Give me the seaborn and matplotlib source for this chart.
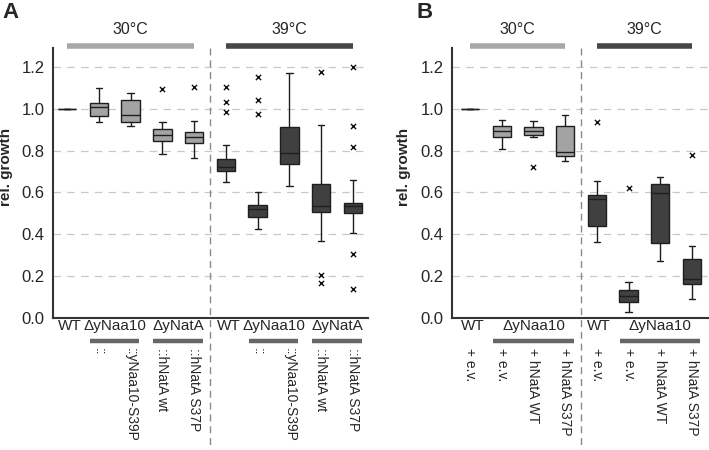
"""Relative growth of yeast strains at 30 °C and 39 °C (panels A and B)."""

import matplotlib.pyplot as plt
import matplotlib.transforms as mtransforms
import numpy as np
import pandas as pd
import seaborn as sns

# ---- panel A: box statistics (whisker low, Q1, median, Q3, whisker high)
A_temp = ["30", "30", "30", "30", "30", "39", "39", "39", "39", "39"]
A_low = [1.000, 0.938, 0.915, 0.784, 0.766, 0.652, 0.425, 0.631, 0.370, 0.405]
A_q1 = [1.000, 0.967, 0.935, 0.848, 0.835, 0.703, 0.481, 0.735, 0.508, 0.503]
A_med = [1.000, 1.007, 0.970, 0.875, 0.867, 0.723, 0.520, 0.787, 0.537, 0.533]
A_q3 = [1.000, 1.026, 1.042, 0.902, 0.888, 0.760, 0.540, 0.913, 0.639, 0.548]
A_high = [1.000, 1.098, 1.077, 0.935, 0.942, 0.827, 0.601, 1.170, 0.923, 0.660]
A_out_pos = [3, 4, 5, 5, 5, 6, 6, 6, 8, 8, 8, 9, 9, 9, 9, 9]
A_out_val = [1.096, 1.103, 1.106, 1.033, 0.986, 1.151, 1.042, 0.975,
             1.174, 0.204, 0.166, 1.198, 0.918, 0.819, 0.306, 0.137]
A_top = ["WT", "ΔyNaa10", "ΔyNatA", "WT", "ΔyNaa10", "ΔyNatA"]
A_top_pos = [0.1, 1.5, 3.5, 5.1, 6.5, 8.5]
A_rot = ["::", "::yNaa10-S39P", "::hNatA wt", "::hNatA S37P"] * 2
A_rot_pos = [1, 2, 3, 4, 6, 7, 8, 9]

# ---- panel B
B_temp = ["30", "30", "30", "30", "39", "39", "39", "39"]
B_low = [1.000, 0.808, 0.867, 0.750, 0.362, 0.030, 0.272, 0.089]
B_q1 = [1.000, 0.864, 0.876, 0.774, 0.440, 0.078, 0.357, 0.161]
B_med = [1.000, 0.895, 0.895, 0.795, 0.569, 0.107, 0.599, 0.186]
B_q3 = [1.000, 0.915, 0.913, 0.915, 0.588, 0.134, 0.640, 0.282]
B_high = [1.000, 0.947, 0.943, 0.970, 0.656, 0.174, 0.675, 0.346]
B_out_pos = [2, 4, 5, 7]
B_out_val = [0.720, 0.938, 0.620, 0.778]
B_top = ["WT", "ΔyNaa10", "WT", "ΔyNaa10"]
B_top_pos = [0.1, 2, 4.05, 6]
B_rot = ["+ e.v.", "+ e.v.", "+ hNatA WT", "+ hNatA S37P"] * 2
B_rot_pos = [0, 1, 2, 3, 4, 5, 6, 7]

PALETTE = {"30": "#a3a3a3", "39": "#404040"}
BAR_COLORS = {"30": "#a8a8a8", "39": "#474747"}


def box_frame(temp, low, q1, med, q3, high):
    rows = []
    for pos, t in enumerate(temp):
        for v in (low[pos], q1[pos], med[pos], q3[pos], high[pos]):
            rows.append({"pos": pos, "value": v, "temp": t})
    return pd.DataFrame(rows)


def draw_panel(ax, df, out_pos, out_val, xlim, split, top, top_pos, underline,
               rot, rot_pos, temp_spans, letter, ylabel_x):
    sns.boxplot(data=df, x="pos", y="value", hue="temp", palette=PALETTE,
                native_scale=True, dodge=False, width=0.58, whis=(0, 100),
                linecolor="#1e1e1e", linewidth=1.0, showfliers=False,
                legend=False, capwidths=0.2, ax=ax)
    sns.scatterplot(x=out_pos, y=out_val, marker="x", color="#111111", s=14,
                    linewidth=1.0, ax=ax, zorder=5)

    ax.set_xlim(*xlim)
    ax.set_ylim(0, 1.29)
    ax.set_yticks(np.arange(0, 1.21, 0.2))
    ax.set_yticklabels([f"{v:.1f}" for v in np.arange(0, 1.21, 0.2)], fontsize=12)
    ax.set_xticks([])
    ax.set_xlabel("")
    ax.set_ylabel("rel. growth", fontsize=11, fontweight="bold")
    ax.yaxis.set_label_coords(ylabel_x, 0.56)
    ax.tick_params(axis="y", length=4, width=1.2, pad=2, color="#333333")
    ax.yaxis.grid(True, linestyle=(0, (6, 5)), color="#c8c8c8", linewidth=0.9)
    ax.set_axisbelow(True)
    for side in ("top", "right"):
        ax.spines[side].set_visible(False)
    for side in ("left", "bottom"):
        ax.spines[side].set_color("#333333")
        ax.spines[side].set_linewidth(1.5)

    trans = mtransforms.blended_transform_factory(ax.transData, ax.transAxes)
    ax.plot([split, split], [1.0, -0.5], transform=trans, color="#8a8a8a",
            linewidth=1.0, linestyle=(0, (5, 3.5)), clip_on=False)

    for label, x in zip(top, top_pos):
        ax.text(x, -0.03, label, transform=trans, ha="center", va="center",
                fontsize=11)
    for center, half in underline:
        ax.plot([center - half, center + half], [-0.085, -0.085], transform=trans,
                color="#666666", linewidth=3.2, solid_capstyle="butt", clip_on=False)
    for label, x in zip(rot, rot_pos):
        ax.text(x, -0.11, label, transform=trans, rotation=270, ha="center",
                va="top", fontsize=10)

    for t, (x0, x1) in temp_spans:
        ax.plot([x0, x1], [1.009, 1.009], transform=trans, color=BAR_COLORS[t],
                linewidth=4, solid_capstyle="butt", clip_on=False)
        ax.text((x0 + x1) / 2, 1.067, f"{t}°C", transform=trans, ha="center",
                va="center", fontsize=11.5)

    ax.text(letter[0], letter[1], letter[2], transform=ax.figure.transFigure,
            fontsize=16, fontweight="bold", va="baseline", ha="left")


def main() -> None:
    sns.set_theme(style="white")
    plt.rcParams["font.family"] = ["Liberation Sans", "DejaVu Sans"]

    fig = plt.figure(figsize=(7.09, 4.5), dpi=100)
    ax_a = fig.add_axes([53 / 709, 132 / 450, 315 / 709, 270 / 450])
    ax_b = fig.add_axes([452 / 709, 132 / 450, 257 / 709, 270 / 450])

    draw_panel(
        ax_a, box_frame(A_temp, A_low, A_q1, A_med, A_q3, A_high),
        A_out_pos, A_out_val, (-0.44, 9.47), 4.5,
        A_top, A_top_pos, [(1.5, 0.78), (3.5, 0.78), (6.5, 0.77), (8.5, 0.78)],
        A_rot, A_rot_pos, [("30", (0, 4)), ("39", (5, 9))],
        (2 / 709, 1 - 18 / 450, "A"), -0.127,
    )
    draw_panel(
        ax_b, box_frame(B_temp, B_low, B_q1, B_med, B_q3, B_high),
        B_out_pos, B_out_val, (-0.57, 7.54), 3.5,
        B_top, B_top_pos, [(2, 1.27), (6, 1.27)],
        B_rot, B_rot_pos, [("30", (0, 3)), ("39", (4, 7))],
        (416 / 709, 1 - 18 / 450, "B"), -0.16,
    )

    fig.savefig("out.png", dpi=100)
    plt.close(fig)


if __name__ == "__main__":
    main()
